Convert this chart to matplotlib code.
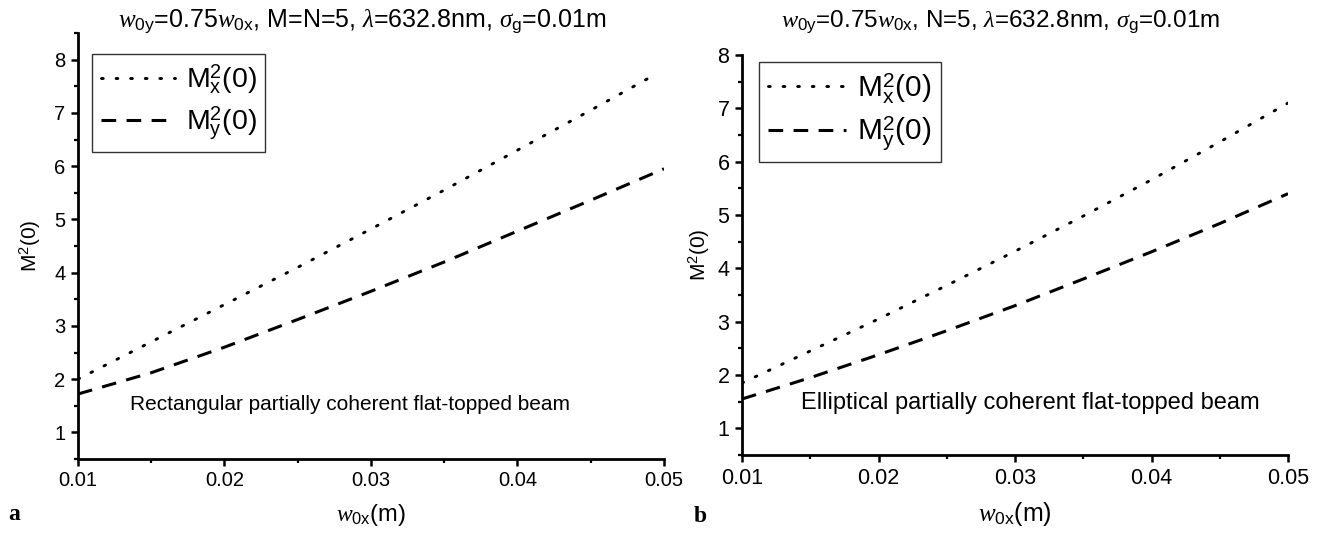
import matplotlib
matplotlib.use("Agg")
import matplotlib.pyplot as plt
from matplotlib.ticker import MultipleLocator

plt.rcParams['font.family'] = ['Liberation Sans', 'DejaVu Sans']
plt.rcParams['mathtext.fontset'] = 'custom'
plt.rcParams['mathtext.rm'] = 'Liberation Sans'
plt.rcParams['mathtext.sf'] = 'Liberation Sans'
plt.rcParams['mathtext.it'] = 'Liberation Serif:italic'
plt.rcParams['mathtext.bf'] = 'Liberation Sans:bold'

# beam waist width w0x (m)
w0x = [0.010, 0.015, 0.020, 0.025, 0.030, 0.035, 0.040, 0.045, 0.050]

# (a) rectangular partially coherent flat-topped beam
rect_w0x_x = [0.010, 0.015, 0.020, 0.025, 0.030, 0.035, 0.040, 0.045, 0.049]
rect_Mx2 = [2.00, 2.70, 3.40, 4.10, 4.82, 5.55, 6.30, 7.05, 7.66]
rect_My2 = [1.72, 2.12, 2.60, 3.12, 3.65, 4.20, 4.78, 5.36, 5.95]

# (b) elliptical partially coherent flat-topped beam
ell_Mx2 = [1.85, 2.45, 3.05, 3.68, 4.32, 4.98, 5.66, 6.37, 7.10]
ell_My2 = [1.55, 1.95, 2.38, 2.83, 3.30, 3.80, 4.31, 4.84, 5.40]

titles = [
    r"$\mathit{w}_{\mathrm{0y}}$=0.75$\mathit{w}_{\mathrm{0x}}$, M=N=5, $\lambda$=632.8nm, $\sigma_{\mathrm{g}}$=0.01m",
    r"$\mathit{w}_{\mathrm{0y}}$=0.75$\mathit{w}_{\mathrm{0x}}$, N=5, $\lambda$=632.8nm, $\sigma_{\mathrm{g}}$=0.01m",
]
notes = ["Rectangular partially coherent flat-topped beam",
         "Elliptical partially coherent flat-topped beam"]
panel_letters = ["a", "b"]
label_x = r"$\mathit{w}_{\mathrm{0x}}$(m)"
label_y = r"M$^{\mathrm{2}}$(0)"
legend_labels = [r"M$_{\mathrm{x}}^{\mathrm{2}}$(0)", r"M$_{\mathrm{y}}^{\mathrm{2}}$(0)"]

W, H = 1327, 537
fig = plt.figure(figsize=(W / 100, H / 100), dpi=100)

ax_a = fig.add_axes([78 / W, 1 - 459 / H, 586 / W, 426 / H])
ax_b = fig.add_axes([742 / W, 1 - 455 / H, 546 / W, 400 / H])

dot_style = dict(color="black", lw=2.1, linestyle=(0, (0.6, 4.4)), dash_capstyle="round")
dash_style = dict(color="black", lw=2.2, linestyle=(0, (4.8, 3.4)))

# per-panel settings: axes, x for Mx, Mx, x for My, My, ylim,
# legend anchor, note position, tick size, note size, title x-centre,
# x-label size, y-label size, legend size
panels = [
    (ax_a, rect_w0x_x, rect_Mx2, w0x, rect_My2, (0.5, 8.5), (0.024, 0.951),
     (0.089, 0.127), 14.5, 15.0, 362, 17, 15, 20.5),
    (ax_b, w0x, ell_Mx2, w0x, ell_My2, (0.5, 8.0), (0.031, 0.983),
     (0.108, 0.13), 15.5, 17.0, 1001, 18, 15, 21.5),
]

for i, (ax, xx, mx, xy, my, ylim, leg_pos, note_pos, tsize, nsize, tcx,
        xlsize, ylsize, lgsize) in enumerate(panels):
    ax.plot(xx, mx, label=legend_labels[0], **dot_style)
    ax.plot(xy, my, label=legend_labels[1], **dash_style)
    ax.set_xlim(0.01, 0.05)
    ax.set_ylim(*ylim)
    ax.xaxis.set_major_locator(MultipleLocator(0.01))
    ax.xaxis.set_minor_locator(MultipleLocator(0.005))
    ax.yaxis.set_major_locator(MultipleLocator(1))
    ax.yaxis.set_minor_locator(MultipleLocator(0.5))
    ax.set_xticks([0.01, 0.02, 0.03, 0.04, 0.05])
    ax.set_xticklabels(["0.01", "0.02", "0.03", "0.04", "0.05"])
    for side in ("top", "right"):
        ax.spines[side].set_visible(False)
    for side in ("left", "bottom"):
        ax.spines[side].set_linewidth(2.0)
    ax.tick_params(which="major", direction="out", length=5, width=1.8,
                   labelsize=tsize, pad=4)
    ax.tick_params(which="minor", direction="out", length=3, width=1.6)
    ax.set_xlabel(label_x, fontsize=xlsize, labelpad=8)
    ax.set_ylabel(label_y, fontsize=ylsize, labelpad=8 if i == 0 else 4)
    fig.text(tcx / W, 1 - 22 / H, titles[i], fontsize=18 if i == 0 else 17.5,
             ha="center", va="center")
    leg = ax.legend(loc="upper left", bbox_to_anchor=leg_pos, fontsize=lgsize,
                    frameon=True, fancybox=False, edgecolor="black",
                    handlelength=2.6, handletextpad=0.4, borderpad=0.3,
                    labelspacing=0.3, borderaxespad=0)
    leg.get_frame().set_linewidth(1.0)
    ax.text(note_pos[0], note_pos[1], notes[i], transform=ax.transAxes,
            fontsize=nsize, ha="left", va="center")

fig.text(8 / W, 1 - 515 / H, panel_letters[0], fontsize=17, fontweight="bold",
         family="Liberation Serif", va="center")
fig.text(694 / W, 1 - 516 / H, panel_letters[1], fontsize=17, fontweight="bold",
         family="Liberation Serif", va="center")

fig.savefig("out.png", dpi=100)
